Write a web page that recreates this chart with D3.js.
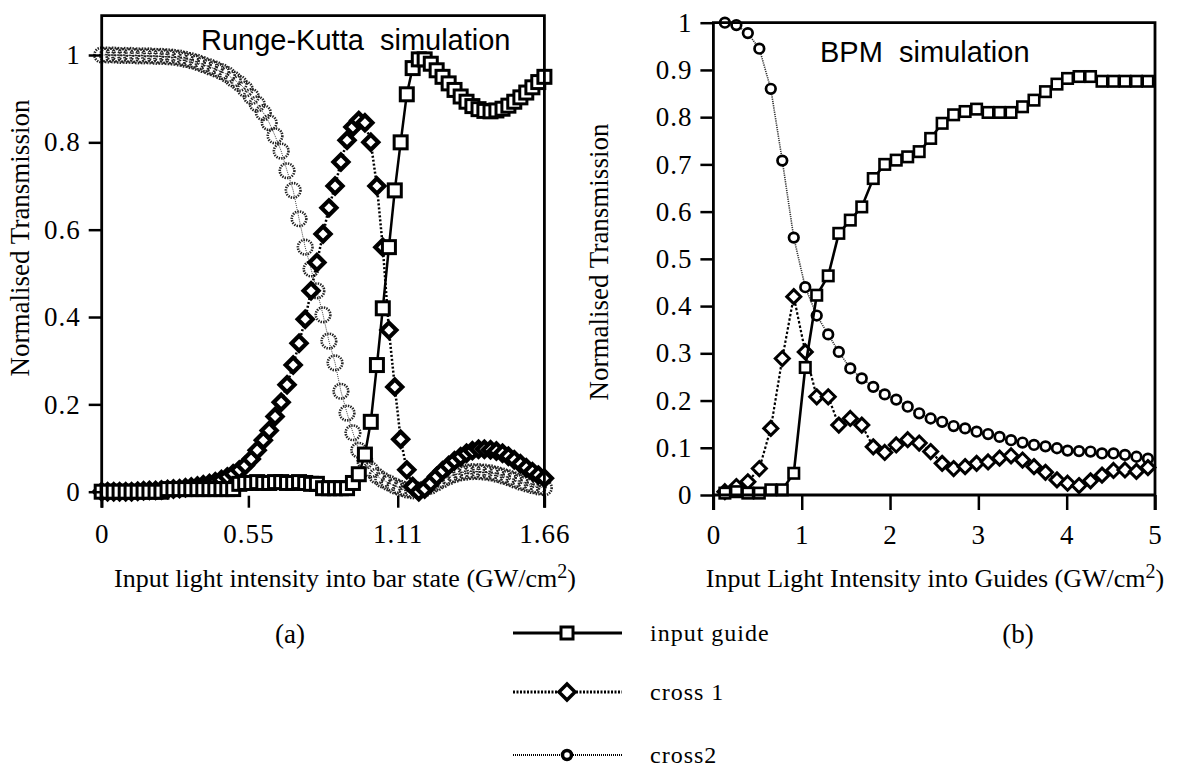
<!DOCTYPE html>
<html>
<head>
<meta charset="utf-8">
<script src="https://cdn.jsdelivr.net/npm/d3@7"></script>
<style>
body { margin: 0; background: #fff; }
svg text { font-family: "Liberation Serif", "Times New Roman", serif; fill: #000; }
</style>
</head>
<body>
<div id="chart"></div>
<script>
// (a) Runge-Kutta simulation, intensity in GW/cm2
var rkX = [0, 0.022, 0.045, 0.067, 0.09, 0.112, 0.135, 0.157, 0.179, 0.202, 0.224, 0.247, 0.269, 0.292, 0.314,
  0.336, 0.359, 0.381, 0.404, 0.426, 0.449, 0.471, 0.493, 0.516, 0.538, 0.561, 0.583, 0.606, 0.628, 0.65,
  0.673, 0.695, 0.718, 0.74, 0.763, 0.785, 0.807, 0.83, 0.852, 0.875, 0.897, 0.92, 0.942, 0.964, 0.987,
  1.009, 1.032, 1.054, 1.077, 1.099, 1.121, 1.144, 1.166, 1.189, 1.211, 1.234, 1.256, 1.278, 1.301, 1.323,
  1.346, 1.368, 1.39, 1.413, 1.435, 1.458, 1.48, 1.503, 1.525, 1.547, 1.57, 1.592, 1.615, 1.637, 1.66];
var rkInput = [0, 0, 0, 0, 0, 0, 0, 0, 0, 0, 0,
  0.006, 0.006, 0.006, 0.006, 0.006, 0.006, 0.006, 0.006, 0.006, 0.006, 0.006, 0.006,
  0.018, 0.02, 0.02, 0.022, 0.02, 0.02, 0.022, 0.022, 0.02, 0.02, 0.022, 0.02, 0.018, 0.018,
  0.008, 0.008, 0.008, 0.008, 0.008,
  0.02, 0.04, 0.085, 0.16, 0.29, 0.42, 0.56, 0.69, 0.8, 0.91, 0.97, 0.99, 0.99, 0.98, 0.965, 0.95,
  0.935, 0.92, 0.905, 0.893, 0.883, 0.876, 0.872, 0.871, 0.873, 0.877, 0.884, 0.893, 0.903, 0.914,
  0.926, 0.938, 0.95];
var rkCross1 = [0, 0, 0, 0, 0, 0, 0.001, 0.002, 0.003, 0.003, 0.004, 0.005, 0.006, 0.007, 0.009,
  0.011, 0.013, 0.016, 0.019, 0.023, 0.028, 0.034, 0.041, 0.05, 0.06, 0.075, 0.095, 0.118, 0.14, 0.172,
  0.205, 0.245, 0.29, 0.34, 0.395, 0.46, 0.525, 0.59, 0.65, 0.7, 0.755, 0.805, 0.835, 0.85, 0.845,
  0.8, 0.7, 0.56, 0.37, 0.24, 0.12, 0.05, 0.012, 0, 0.006, 0.02, 0.035, 0.048, 0.06, 0.071,
  0.08, 0.088, 0.094, 0.097, 0.097, 0.096, 0.093, 0.088, 0.081, 0.073, 0.064, 0.055, 0.046, 0.038, 0.031];
var rkCross2 = [1, 1, 1, 0.999, 0.999, 0.999, 0.998, 0.998, 0.998, 0.997, 0.997, 0.996, 0.995, 0.993, 0.99,
  0.987, 0.983, 0.978, 0.973, 0.968, 0.962, 0.955, 0.945, 0.935, 0.922, 0.905, 0.888, 0.868, 0.845, 0.815,
  0.78, 0.735, 0.69, 0.625, 0.56, 0.51, 0.46, 0.405, 0.345, 0.295, 0.23, 0.18, 0.135, 0.095, 0.07,
  0.05, 0.036, 0.027, 0.02, 0.013, 0.008, 0.004, 0.002, 0.003, 0.007, 0.013, 0.02, 0.027, 0.034, 0.039,
  0.043, 0.045, 0.046, 0.046, 0.045, 0.043, 0.04, 0.036, 0.032, 0.027, 0.022, 0.018, 0.014, 0.011, 0.009];
var rkTicksX = [0, 0.55, 1.11, 1.66];
var rkTicksY = [0, 0.2, 0.4, 0.6, 0.8, 1];

// (b) BPM simulation
var bpmX = [0.13, 0.26, 0.39, 0.52, 0.65, 0.78, 0.91, 1.04, 1.17, 1.3, 1.42, 1.55, 1.68, 1.81, 1.94,
  2.07, 2.2, 2.33, 2.46, 2.59, 2.72, 2.85, 2.98, 3.11, 3.24, 3.37, 3.5, 3.63, 3.76, 3.89, 4.01, 4.14,
  4.27, 4.4, 4.53, 4.66, 4.79, 4.92];
var bpmInput = [0.004, 0.007, 0.004, 0.004, 0.011, 0.011, 0.046, 0.27, 0.423, 0.464, 0.554, 0.582, 0.61,
  0.67, 0.7, 0.709, 0.716, 0.727, 0.755, 0.787, 0.805, 0.812, 0.817, 0.81, 0.81, 0.81, 0.822, 0.836,
  0.854, 0.87, 0.882, 0.886, 0.886, 0.876, 0.876, 0.876, 0.876, 0.876];
var bpmCross1 = [0.007, 0.018, 0.028, 0.056, 0.141, 0.289, 0.42, 0.303, 0.208, 0.208, 0.148, 0.162, 0.148,
  0.102, 0.09, 0.106, 0.117, 0.11, 0.092, 0.067, 0.056, 0.06, 0.067, 0.07, 0.078, 0.083, 0.074, 0.06,
  0.048, 0.032, 0.025, 0.02, 0.03, 0.042, 0.052, 0.053, 0.05, 0.058];
var bpmCross2 = [1, 0.995, 0.978, 0.945, 0.86, 0.708, 0.545, 0.44, 0.38, 0.34, 0.303, 0.268, 0.247, 0.229,
  0.213, 0.202, 0.187, 0.173, 0.162, 0.155, 0.146, 0.141, 0.134, 0.129, 0.123, 0.116, 0.111, 0.106,
  0.103, 0.099, 0.094, 0.093, 0.092, 0.088, 0.088, 0.085, 0.081, 0.077];
var bpmTicksX = [0, 1, 2, 3, 4, 5];
var bpmTicksY = [0, 0.1, 0.2, 0.3, 0.4, 0.5, 0.6, 0.7, 0.8, 0.9, 1];

var legendNames = ["input guide", "cross 1", "cross2"];

var svg = d3.select("#chart").append("svg")
    .attr("width", 1188)
    .attr("height", 767);

function zip(xs, ys) {
    return xs.map((x, i) => ({x: x, y: ys[i]}));
}

function diamond(s) {
    return "M0," + (-s) + "L" + s + ",0L0," + s + "L" + (-s) + ",0Z";
}

// draws one series: line + markers
function drawSeries(g, pts, xs, ys, st) {
    var line = d3.line().x(d => xs(d.x)).y(d => ys(d.y));
    g.append("path")
        .attr("d", line(pts))
        .attr("fill", "none")
        .attr("stroke", st.lineColor || "#000")
        .attr("stroke-width", st.lineWidth)
        .attr("stroke-dasharray", st.dash || null);

    var m = g.selectAll(null).data(pts).enter();
    if (st.shape == "square") {
        m.append("rect")
            .attr("x", d => xs(d.x) - st.size / 2)
            .attr("y", d => ys(d.y) - st.size / 2)
            .attr("width", st.size)
            .attr("height", st.size)
            .attr("fill", "#fff")
            .attr("stroke", "#000")
            .attr("stroke-width", st.sw);
    } else if (st.shape == "diamond") {
        m.append("path")
            .attr("d", diamond(st.size))
            .attr("transform", d => "translate(" + xs(d.x) + "," + ys(d.y) + ")")
            .attr("fill", "#fff")
            .attr("stroke", "#000")
            .attr("stroke-width", st.sw);
    } else {
        m.append("circle")
            .attr("cx", d => xs(d.x))
            .attr("cy", d => ys(d.y))
            .attr("r", st.size)
            .attr("fill", st.fill || "#fff")
            .attr("stroke", st.markColor || "#000")
            .attr("stroke-width", st.sw)
            .attr("stroke-dasharray", st.markDash || null);
    }
}

function styleAxis(g, fontSize) {
    g.select(".domain").remove();
    g.selectAll(".tick line").attr("stroke", "#000").attr("stroke-width", 2.5);
    g.selectAll(".tick text")
        .style("font-family", "'Liberation Serif', serif")
        .style("font-size", fontSize + "px")
        .style("letter-spacing", "1px")
        .attr("fill", "#000");
}

// ---------- panel (a)
var xA = d3.scaleLinear().domain([0, 1.66]).range([101.7, 544.4]);
var yA = d3.scaleLinear().domain([0, 1]).range([491.7, 55]);
var gA = svg.append("g");

drawSeries(gA, zip(rkX, rkCross2), xA, yA,
    {shape: "circle", size: 7.3, sw: 2.6, fill: "none", markColor: "#222", markDash: "1.4 1.1",
     lineWidth: 1, dash: "1 1", lineColor: "#444"});
drawSeries(gA, zip(rkX, rkCross1), xA, yA,
    {shape: "diamond", size: 7.5, sw: 4.2, lineWidth: 2.5, dash: "2 2"});
drawSeries(gA, zip(rkX, rkInput), xA, yA,
    {shape: "square", size: 13, sw: 3, lineWidth: 2.5});

gA.append("path")
    .attr("d", "M" + xA(0) + "," + (yA(0) + 16) + "V" + yA(1.09) + "H" + xA(1.66) + "V" + (yA(0) + 16))
    .attr("fill", "none").attr("stroke", "#000").attr("stroke-width", 2.8);

gA.append("g")
    .attr("transform", "translate(" + xA(0) + ",0)")
    .call(d3.axisLeft(yA).tickValues(rkTicksY).tickSize(13).tickPadding(8).tickFormat(d => d))
    .call(g => styleAxis(g, 27));

gA.append("g")
    .attr("transform", "translate(0," + (yA(0) + 4) + ")")
    .call(d3.axisBottom(xA).tickValues(rkTicksX).tickSize(12).tickPadding(16).tickFormat(d => d))
    .call(g => styleAxis(g, 27));

gA.append("text")
    .attr("x", 201).attr("y", 50)
    .style("font-family", "'Liberation Sans', Arial, sans-serif")
    .style("font-size", "29px")
    .style("white-space", "pre")
    .text("Runge-Kutta  simulation");

// ---------- panel (b)
var xB = d3.scaleLinear().domain([0, 5]).range([713.4, 1155]);
var yB = d3.scaleLinear().domain([0, 1]).range([495, 22.7]);
var gB = svg.append("g");

drawSeries(gB, zip(bpmX, bpmCross2), xB, yB,
    {shape: "circle", size: 4.8, sw: 2.7, lineWidth: 1.6, dash: "1.2 1", lineColor: "#333"});
drawSeries(gB, zip(bpmX, bpmCross1), xB, yB,
    {shape: "diamond", size: 7, sw: 3, lineWidth: 2.2, dash: "2.5 2"});
drawSeries(gB, zip(bpmX, bpmInput), xB, yB,
    {shape: "square", size: 10.5, sw: 2.6, lineWidth: 2.6});

gB.append("path")
    .attr("d", "M" + xB(0) + "," + (yB(0) + 15) + "V" + yB(1) + "H" + xB(5) + "V" + (yB(0) + 15))
    .attr("fill", "none").attr("stroke", "#000").attr("stroke-width", 2.8);
gB.append("line")
    .attr("x1", xB(0)).attr("x2", xB(5))
    .attr("y1", yB(0)).attr("y2", yB(0))
    .attr("stroke", "#000").attr("stroke-width", 2.8);

gB.append("g")
    .attr("transform", "translate(" + xB(0) + ",0)")
    .call(d3.axisLeft(yB).tickValues(bpmTicksY).tickSize(13).tickPadding(8).tickFormat(d => d))
    .call(g => styleAxis(g, 27));

gB.append("g")
    .attr("transform", "translate(0," + yB(0) + ")")
    .call(d3.axisBottom(xB).tickValues(bpmTicksX).tickSize(15).tickPadding(15).tickFormat(d => d))
    .call(g => styleAxis(g, 27));

gB.append("text")
    .attr("x", 820).attr("y", 62)
    .style("font-family", "'Liberation Sans', Arial, sans-serif")
    .style("font-size", "29px")
    .style("white-space", "pre")
    .text("BPM  simulation");

// ---------- axis titles
function yTitle(x, y) {
    svg.append("text")
        .attr("transform", "translate(" + x + "," + y + ") rotate(-90)")
        .attr("text-anchor", "middle")
        .style("font-size", "27px")
        .text("Normalised Transmission");
}
yTitle(29, 238);
yTitle(608, 262);

function xTitle(x, y, label) {
    var t = svg.append("text")
        .attr("x", x).attr("y", y)
        .attr("text-anchor", "middle")
        .style("font-size", "26px");
    t.append("tspan").text(label + " (GW/cm");
    t.append("tspan").attr("dy", -9).style("font-size", "20px").text("2");
    t.append("tspan").attr("dy", 9).text(")");
}
xTitle(345, 587, "Input light intensity into bar state");
xTitle(935, 587, "Input Light Intensity into Guides");

svg.append("text").attr("x", 290).attr("y", 643).attr("text-anchor", "middle")
    .style("font-size", "27px").text("(a)");
svg.append("text").attr("x", 1018).attr("y", 643).attr("text-anchor", "middle")
    .style("font-size", "27px").text("(b)");

// ---------- legend
var legY = [633, 692, 755];
var lg = svg.append("g");
lg.append("line").attr("x1", 513).attr("x2", 622).attr("y1", legY[0]).attr("y2", legY[0])
    .attr("stroke", "#000").attr("stroke-width", 3);
lg.append("rect").attr("x", 567 - 6).attr("y", legY[0] - 6).attr("width", 12).attr("height", 12)
    .attr("fill", "#fff").attr("stroke", "#000").attr("stroke-width", 3);
lg.append("line").attr("x1", 513).attr("x2", 622).attr("y1", legY[1]).attr("y2", legY[1])
    .attr("stroke", "#000").attr("stroke-width", 3).attr("stroke-dasharray", "2 1.5");
lg.append("path").attr("d", diamond(8)).attr("transform", "translate(567," + legY[1] + ")")
    .attr("fill", "#fff").attr("stroke", "#000").attr("stroke-width", 3.5);
lg.append("line").attr("x1", 513).attr("x2", 622).attr("y1", legY[2]).attr("y2", legY[2])
    .attr("stroke", "#000").attr("stroke-width", 2).attr("stroke-dasharray", "1 1");
lg.append("circle").attr("cx", 567).attr("cy", legY[2]).attr("r", 4.5)
    .attr("fill", "#fff").attr("stroke", "#000").attr("stroke-width", 3.5);

lg.selectAll("text.leg")
    .data(legendNames)
    .enter()
    .append("text")
    .attr("class", "leg")
    .attr("x", 650)
    .attr("y", (d, i) => legY[i] + 8)
    .style("font-size", "24px")
    .style("letter-spacing", "1px")
    .text(d => d);
</script>
</body>
</html>
